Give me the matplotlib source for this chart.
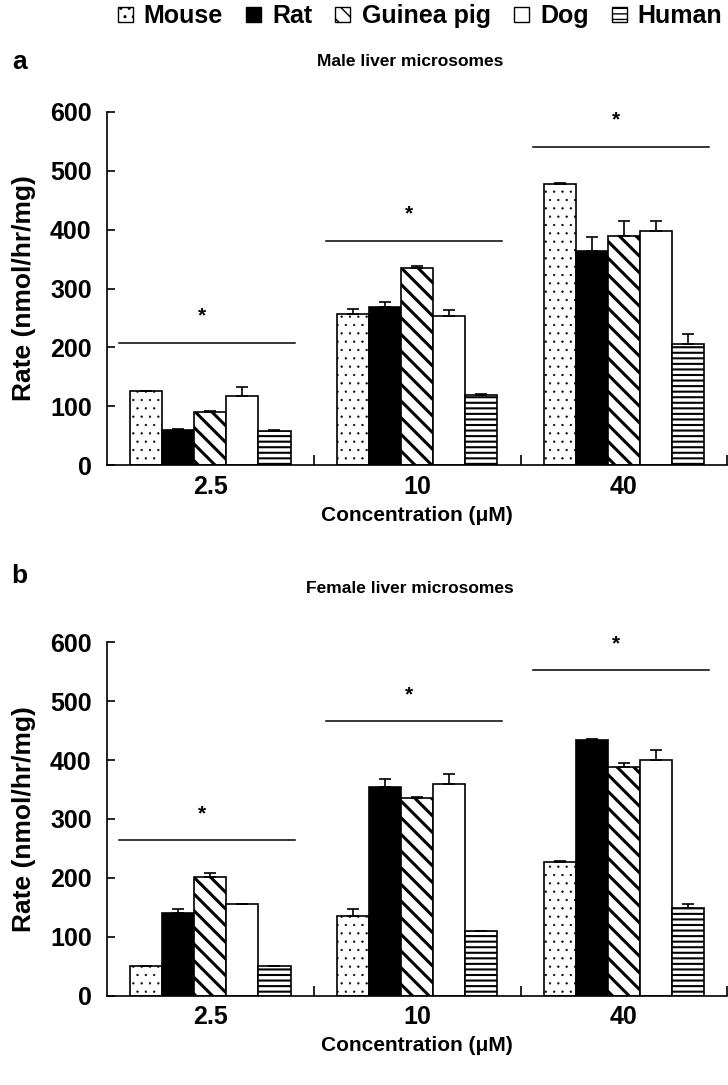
import numpy as np
import matplotlib
matplotlib.use("Agg")
import matplotlib.pyplot as plt
from matplotlib.patches import Patch

plt.rcParams['font.family'] = ['Liberation Sans', 'DejaVu Sans']
plt.rcParams['font.weight'] = 'bold'

concentrations = ["2.5", "10", "40"]
species = ["Mouse", "Rat", "Guinea pig", "Dog", "Human"]

# rows: species, columns: concentration
male_rate = [
    [126, 256, 478],
    [60, 268, 364],
    [90, 334, 390],
    [118, 254, 397],
    [58, 119, 205],
]
male_err = [
    [0, 10, 1],
    [2, 9, 24],
    [1, 5, 25],
    [15, 10, 18],
    [1, 2, 17],
]
female_rate = [
    [50, 135, 227],
    [140, 354, 434],
    [201, 336, 388],
    [155, 359, 400],
    [51, 110, 149],
]
female_err = [
    [0, 12, 2],
    [7, 14, 2],
    [7, 2, 7],
    [1, 17, 17],
    [0, 0, 6],
]
male_sig = [208, 381, 541]
female_sig = [264, 466, 553]

fills = ['white', 'black', 'white', 'white', 'white']
hatches = ['..', None, '\\\\', None, '---']
hatch_lw = [0.4, 1.0, 2.2, 1.0, 1.5]

fig = plt.figure(figsize=(7.28, 10.85), dpi=100)
ax1 = fig.add_axes([0.147, 0.5714, 0.852, 0.3254])
ax2 = fig.add_axes([0.147, 0.0824, 0.852, 0.3256])

width = 0.155
x = np.arange(len(concentrations))


def set_hatch_lw(patches, lw):
    for p in patches:
        if hasattr(p, 'set_hatch_linewidth'):
            p.set_hatch_linewidth(lw)


def draw_panel(ax, rates, errs, sig):
    for i in range(len(species)):
        pos = x + (i - 2) * width
        vals = np.array(rates[i])
        with plt.rc_context({'hatch.linewidth': hatch_lw[i]}):
            bars = ax.bar(pos, vals, width, color=fills[i], edgecolor='black',
                          hatch=hatches[i], linewidth=1.2, zorder=2)
        set_hatch_lw(bars, hatch_lw[i])
        ax.errorbar(pos, vals, yerr=[np.zeros(len(vals)), errs[i]], fmt='none',
                    ecolor='black', elinewidth=1.2, capsize=4, capthick=1.2, zorder=3)
    for j, s in enumerate(sig):
        ax.plot([x[j] - 0.44, x[j] + 0.41], [s, s], color='black', lw=1.1)
        ax.text(x[j] - 0.04, s + 45, '*', ha='center', va='center', fontsize=15)
    ax.set_xlim(-0.5, 2.5)
    ax.set_ylim(0, 600)
    ax.set_yticks(range(0, 601, 100))
    ax.set_xticks(x)
    ax.set_xticklabels(concentrations, fontsize=18)
    ax.set_xticks([0.5, 1.5, 2.5], minor=True)
    ax.tick_params(axis='x', which='major', length=0, pad=7)
    ax.tick_params(axis='x', which='minor', direction='in', length=7, width=1.2)
    ax.tick_params(axis='y', direction='in', length=6, width=1.2, labelsize=18, pad=11)
    for sp in ['top', 'right']:
        ax.spines[sp].set_visible(False)
    for sp in ['left', 'bottom']:
        ax.spines[sp].set_linewidth(1.2)
    ax.set_xlabel('Concentration (\u03bcM)', fontsize=15, fontweight='bold', labelpad=5)
    ax.set_ylabel('Rate (nmol/hr/mg)', fontsize=19, fontweight='bold', labelpad=10)


draw_panel(ax1, male_rate, male_err, male_sig)
draw_panel(ax2, female_rate, female_err, female_sig)

fig.text(0.563, 0.943, 'Male liver microsomes', ha='center', va='center',
         fontsize=12.5, fontweight='bold')
fig.text(0.563, 0.458, 'Female liver microsomes', ha='center', va='center',
         fontsize=12.5, fontweight='bold')
fig.text(0.027, 0.943, 'a', ha='center', va='center', fontsize=19, fontweight='bold')
fig.text(0.027, 0.469, 'b', ha='center', va='center', fontsize=19, fontweight='bold')

handles = []
for i in range(len(species)):
    with plt.rc_context({'hatch.linewidth': min(hatch_lw[i], 1.0)}):
        h = Patch(facecolor=fills[i], edgecolor='black', hatch=hatches[i], linewidth=1.0)
    set_hatch_lw([h], min(hatch_lw[i], 1.0))
    handles.append(h)
fig.legend(handles, species, loc='center', bbox_to_anchor=(0.577, 0.985), ncol=5,
           frameon=False, prop={'size': 18, 'weight': 'bold'}, handlelength=0.6,
           handleheight=0.6, handletextpad=0.45, columnspacing=0.92, borderaxespad=0)

fig.savefig('out.png', dpi=100)
